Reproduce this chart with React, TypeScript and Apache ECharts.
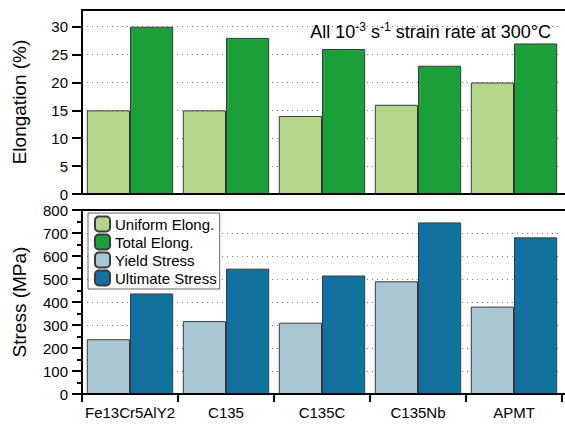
import React, { useEffect, useRef } from "react";
import * as echarts from "echarts";

const categories = ["Fe13Cr5AlY2", "C135", "C135C", "C135Nb", "APMT"];
const uniformElong = [15, 15, 14, 16, 20];
const totalElong = [30, 28, 26, 23, 27];
const yieldStress = [238, 317, 310, 490, 380];
const ultimateStress = [437, 545, 515, 746, 681];
const elongTicks = [0, 5, 10, 15, 20, 25, 30];

const FONT = "Liberation Sans";

export default function App() {
  const ref = useRef<HTMLDivElement>(null);
  useEffect(() => {
    if (!ref.current) return;
    const chart = echarts.init(ref.current, null, { renderer: "svg" });
    const gridL = 82;
    const gridR = 3;
    const bar = (name: string, data: number[], color: string, idx: number) => ({
      name,
      type: "bar",
      data,
      xAxisIndex: idx,
      yAxisIndex: idx,
      barGap: "0%",
      barCategoryGap: "10%",
      itemStyle: { color, borderColor: "#3a3a3a", borderWidth: 1 },
    });
    const frameLine = (y: number) => ({
      type: "line",
      shape: { x1: 81, y1: y, x2: 565, y2: y },
      style: { stroke: "#000", lineWidth: 2 },
      z: 100,
    });
    chart.setOption({
      animation: false,
      backgroundColor: "#fff",
      textStyle: { fontFamily: FONT },
      title: {
        text: "{n|All 10}{s|-3}{n| s}{s|-1}{n| strain rate at 300°C}",
        right: 9,
        top: 16,
        textStyle: {
          fontWeight: "normal",
          rich: {
            n: { fontSize: 18, color: "#000", fontFamily: FONT, fontWeight: "normal", lineHeight: 21 },
            s: { fontSize: 12, color: "#000", fontFamily: FONT, fontWeight: "normal", lineHeight: 11, verticalAlign: "top" },
          },
        },
      },
      legend: {
        orient: "vertical",
        left: 88,
        top: 213,
        itemWidth: 15,
        itemHeight: 15,
        itemGap: 0,
        padding: [2, 3, 2, 6],
        icon: "roundRect",
        backgroundColor: "#fff",
        borderColor: "#666",
        borderWidth: 1,
        textStyle: { fontSize: 15, color: "#000", fontFamily: FONT, lineHeight: 18 },
        data: ["Uniform Elong.", "Total Elong.", "Yield Stress", "Ultimate Stress"],
        z: 50,
      },
      grid: [
        { left: gridL, right: gridR, top: 10, height: 184 },
        { left: gridL, right: gridR, top: 210, height: 184 },
      ],
      xAxis: [
        {
          type: "category",
          gridIndex: 0,
          data: categories,
          axisLine: { show: true, lineStyle: { color: "#000", width: 2 } },
          axisTick: { show: false },
          axisLabel: { show: false },
        },
        {
          type: "category",
          gridIndex: 1,
          data: categories,
          axisLine: { show: true, lineStyle: { color: "#000", width: 2 } },
          axisTick: { show: true, length: 8, lineStyle: { color: "#000", width: 2 } },
          axisLabel: { color: "#000", fontSize: 15, margin: 11, fontFamily: FONT, interval: 0 },
        },
      ],
      yAxis: [
        {
          type: "value",
          gridIndex: 0,
          min: 0,
          max: 33,
          interval: 5,
          name: "Elongation (%)",
          nameLocation: "middle",
          nameGap: 53,
          nameTextStyle: { fontSize: 19, color: "#000", fontFamily: FONT },
          axisLine: { show: true, lineStyle: { color: "#000", width: 2 } },
          axisTick: { show: true, length: 10, customValues: elongTicks, lineStyle: { color: "#000", width: 2 } },
          axisLabel: { color: "#000", fontSize: 15, margin: 14, customValues: elongTicks, fontFamily: FONT },
          splitLine: { show: true, lineStyle: { color: "#777", type: [1, 4], width: 1.2 } },
        },
        {
          type: "value",
          gridIndex: 1,
          min: 0,
          max: 800,
          interval: 100,
          name: "Stress (MPa)",
          nameLocation: "middle",
          nameGap: 53,
          nameTextStyle: { fontSize: 19, color: "#000", fontFamily: FONT },
          axisLine: { show: true, lineStyle: { color: "#000", width: 2 } },
          axisTick: { show: true, length: 10, lineStyle: { color: "#000", width: 2 } },
          minorTick: { show: true, splitNumber: 2, length: 5, lineStyle: { color: "#000", width: 2 } },
          axisLabel: { color: "#000", fontSize: 15, margin: 14, fontFamily: FONT },
          splitLine: { show: true, lineStyle: { color: "#777", type: [1, 4], width: 1.2 } },
        },
      ],
      graphic: [frameLine(10), frameLine(194), frameLine(210), frameLine(394)],
      series: [
        bar("Uniform Elong.", uniformElong, "#b4d68a", 0),
        bar("Total Elong.", totalElong, "#1ca03a", 0),
        bar("Yield Stress", yieldStress, "#a8c7d3", 1),
        bar("Ultimate Stress", ultimateStress, "#11729f", 1),
      ],
    });
    return () => chart.dispose();
  }, []);
  return <div ref={ref} style={{ width: 565, height: 425, position: "absolute", left: 0, top: 0 }} />;
}
